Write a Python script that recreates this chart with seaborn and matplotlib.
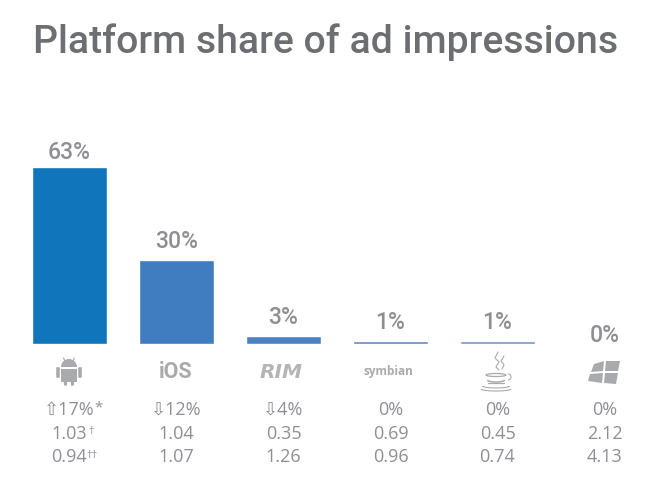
import matplotlib
matplotlib.use("Agg")
import matplotlib.pyplot as plt
import matplotlib.patches as mp
import matplotlib.transforms as mt
import pandas as pd
import seaborn as sns

# --- data ---
platforms = ["Android", "iOS", "RIM", "Symbian", "Java", "Windows"]
share = [63, 30, 3, 1, 1, 0]
share_labels = ["63%", "30%", "3%", "1%", "1%", "0%"]
change_labels = ["\u21e717%", "\u21e912%", "\u21e94%", "0%", "0%", "0%"]
row_two = ["1.03", "1.04", "0.35", "0.69", "0.45", "2.12"]
row_three = ["0.94", "1.07", "1.26", "0.96", "0.74", "4.13"]
bar_colors = ["#1175BC", "#3F7DC0", "#4C82C4", "#5F89C6", "#7096CC", "#7F9FD0"]
label_gaps = [2, 5, 4.5, 5, 5, -2.5]

GREY = "#8E8F94"
ICON = "#A9AAAD"
ROBOTO = ["Roboto", "DejaVu Sans"]
OPEN = ["Open Sans", "DejaVu Sans"]

sns.set_theme(style="white")
plt.rcParams["font.family"] = ROBOTO

fig = plt.figure(figsize=(6.6, 4.95), dpi=100)
ax = fig.add_axes([16 / 660, (495 - 344) / 495, 642 / 660, 177 / 495])

df = pd.DataFrame({"platform": platforms, "share": share})
sns.barplot(data=df, x="platform", y="share", hue="platform", palette=bar_colors,
            order=platforms, hue_order=platforms, width=0.695, legend=False,
            saturation=1, ax=ax)
ax.set_xlim(-0.5, 5.5)
ax.set_ylim(0, 63)
ax.axis("off")

# labels sitting over the bars
for i, (v, lab, gap) in enumerate(zip(share, share_labels, label_gaps)):
    ax.annotate(lab, (i, v), xytext=(0, gap), textcoords="offset points",
                ha="center", va="bottom", fontsize=16.5, color=GREY, weight="medium",
                annotation_clip=False)

# the three rows under the icons
xy = mt.blended_transform_factory(ax.transData, fig.transFigure)
rows = [change_labels, row_two, row_three]
row_y = [410, 434, 457]
for row, py in zip(rows, row_y):
    for i, lab in enumerate(row):
        ax.text(i, 1 - py / 495, lab, transform=xy, ha="center", va="center",
                fontsize=13, color=GREY, clip_on=False, family=OPEN)

# footnote marks on the first column
for mark, py, dx, size in zip(["*", "\u2020", "\u2020\u2020"], row_y, [25, 19, 17], [11, 8, 8]):
    ax.annotate(mark, (0, 1 - py / 495), xycoords=xy, xytext=(dx, 2),
                textcoords="offset pixels", ha="left", va="center", fontsize=size,
                color=GREY, family=OPEN, annotation_clip=False)

fig.text(33 / 660, 1 - 42 / 495, "Platform share of ad impressions", fontsize=28.2,
         color="#6D6E71", ha="left", va="center", weight="medium", family=ROBOTO)

# overlay in pixels for the platform icons
ov = fig.add_axes([0, 0, 1, 1], facecolor="none")
ov.set_xlim(0, 660)
ov.set_ylim(495, 0)
ov.axis("off")

# android
ov.add_patch(mp.Wedge((69, 367), 8, 180, 360, color=ICON, lw=0))
ov.add_patch(mp.Rectangle((61, 368.5), 16, 13, color=ICON, lw=0))
for x0 in (56.5, 78.5):
    ov.add_patch(mp.FancyBboxPatch((x0 + 0.5, 368), 2, 9, boxstyle="round,pad=0.8", color=ICON, lw=0))
for x0 in (64, 71):
    ov.add_patch(mp.FancyBboxPatch((x0 + 0.5, 381), 2, 4, boxstyle="round,pad=0.6", color=ICON, lw=0))
ov.plot([63.5, 65], [358, 361], color=ICON, lw=0.8)
ov.plot([74.5, 73], [358, 361], color=ICON, lw=0.8)

ov.text(176, 371.5, "iOS", fontsize=15.5, weight="bold", color=ICON, ha="center", va="center")
ov.text(281, 372, "RIM", fontsize=14.5, weight="bold", style="italic", color="#B4B5B8",
        ha="center", va="center", family=["DejaVu Sans"])
ov.text(388, 372, "symbian", fontsize=8.5, weight="bold", color=ICON, ha="center", va="center",
        family=OPEN)

# java cup
ov.plot([498, 495, 499, 496, 499], [352, 358, 362, 367, 370], color=ICON, lw=0.8)
ov.plot([504, 501, 504, 502], [356, 361, 365, 369], color=ICON, lw=0.8)
ov.add_patch(mp.Arc((496, 375), 20, 3, color=ICON, lw=0.9))
ov.add_patch(mp.Arc((496, 380), 17, 4, theta1=0, theta2=180, color=ICON, lw=1.1))
ov.add_patch(mp.Arc((508, 377), 6, 6, theta1=-90, theta2=90, color=ICON, lw=0.8))
ov.add_patch(mp.Arc((496, 386), 27, 4, theta1=0, theta2=180, color=ICON, lw=0.8))
ov.add_patch(mp.Arc((496, 389), 30, 4, theta1=0, theta2=180, color=ICON, lw=0.8))
ov.plot([488, 504], [383, 383], color=ICON, lw=0.9)

# windows flag
for pts in [[(594, 364), (604, 361), (603, 371), (591, 372)],
            [(606, 361), (620, 361), (618, 371), (605, 371)],
            [(590, 374), (603, 373), (602, 383), (588, 381)],
            [(605, 373), (618, 373), (616, 384), (604, 383)]]:
    ov.add_patch(mp.Polygon(pts, closed=True, color=ICON, lw=0))

fig.savefig("out.png", dpi=100, facecolor="white")
